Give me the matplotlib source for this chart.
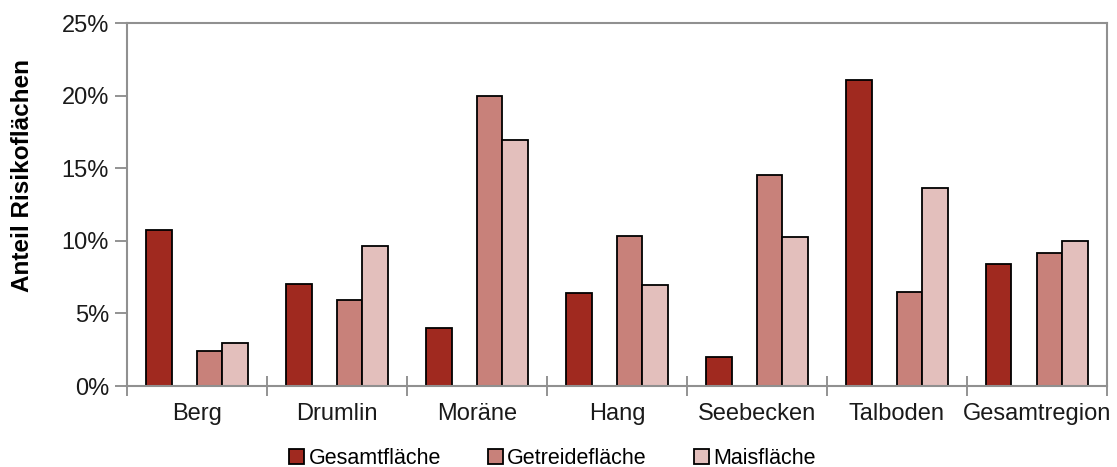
import numpy as np
from matplotlib import pyplot as plt
from matplotlib.ticker import FixedLocator, PercentFormatter

kategorien = ["Berg", "Drumlin", "Moräne", "Hang", "Seebecken", "Talboden", "Gesamtregion"]
gesamt = [10.75, 7.05, 3.97, 6.43, 2.0, 21.07, 8.43]
getreide = [2.43, 5.93, 19.94, 10.32, 14.54, 6.46, 9.19]
mais = [2.98, 9.65, 16.95, 6.96, 10.29, 13.62, 9.97]

serien = ["Gesamtfläche", "Getreidefläche", "Maisfläche"]
farben = ["#A0291F", "#C8817A", "#E3BFBC"]

plt.rcParams['font.family'] = ['Liberation Sans', 'DejaVu Sans']

fig = plt.figure(figsize=(11.17, 4.67), dpi=100)
ax = fig.add_axes([0.1137, 0.1734, 0.991 - 0.1137, 0.9507 - 0.1734])

x = np.arange(len(kategorien)) + 0.5
w = 1 / 5.5
# Excel-Layout mit leerem zweiten Slot
slots = [-1.5 * w, 0.5 * w, 1.5 * w]
for werte, name, farbe, off in zip([gesamt, getreide, mais], serien, farben, slots):
    ax.bar(x + off, werte, width=w, color=farbe, edgecolor='black', linewidth=1.3, label=name)

ax.set_xlim(0, len(kategorien))
ax.set_ylim(0, 25)
ax.yaxis.set_major_formatter(PercentFormatter(decimals=0))
ax.set_yticks(range(0, 26, 5))

ax.xaxis.set_major_locator(FixedLocator(np.arange(len(kategorien) + 1)))
ax.xaxis.set_minor_locator(FixedLocator(x))
ax.set_xticklabels([])
ax.set_xticklabels(kategorien, minor=True)
ax.tick_params(axis='x', which='major', direction='inout', length=14, color='#808080', width=1.2)
ax.tick_params(axis='x', which='minor', length=0, labelsize=17, pad=12, labelcolor='#1a1a1a')
ax.tick_params(axis='y', direction='out', length=9, color='#808080', width=1.2, labelsize=17,
               labelcolor='#1a1a1a', pad=4)

for s in ax.spines.values():
    s.set_color('#909090')
    s.set_linewidth(1.5)

ax.set_ylabel("Anteil Risikoflächen", fontsize=17.5, fontweight='bold', labelpad=20)
ax.yaxis.label.set_y(0.58)

ax.legend(loc='center', bbox_to_anchor=(0.4946, 0.018), bbox_transform=fig.transFigure, ncol=3,
          frameon=False, fontsize=15.5, handlelength=0.68, handleheight=0.68, handletextpad=0.2,
          columnspacing=2.2, borderpad=0.1)

fig.savefig("out.png", dpi=100)
